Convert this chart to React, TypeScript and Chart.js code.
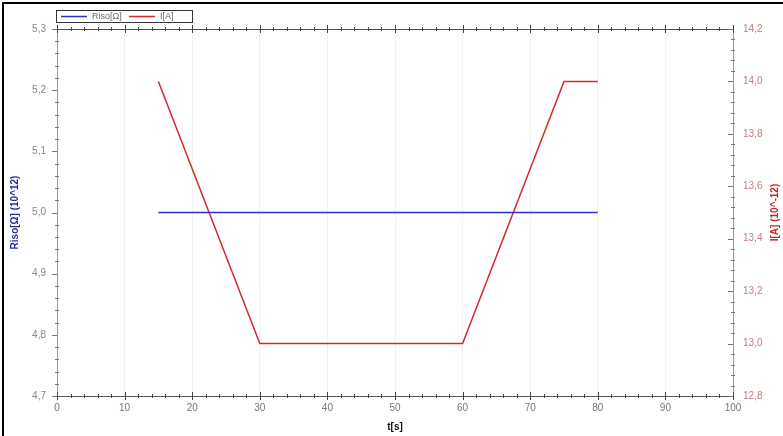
import React, { useEffect, useRef } from "react";
import { Chart, registerables } from "chart.js";

Chart.register(...registerables);

const rLabel = "Riso[Ω]";
const iLabel = "I[A]";
const rTime = [15, 80];
const rValues = [5.0, 5.0];
const iTime = [15, 30, 60, 75, 80];
const iValues = [14.0, 13.0, 13.0, 14.0, 14.0];
const xTitle = "t[s]";
const yLeftTitle = "Riso[Ω] (10^12)";
const yRightTitle = "I[A] (10^-12)";

const BLUE = "#2f2fd0";
const RED = "#d42a2a";
const FONT = "'Liberation Sans', Arial, sans-serif";

const fmt = (v: number) => v.toFixed(1).replace(".", ",");

const decorPlugin = {
  id: "decor",
  beforeDraw(chart: any) {
    const ctx = chart.ctx;
    ctx.save();
    ctx.strokeStyle = "#000";
    ctx.lineWidth = 2;
    ctx.beginPath();
    ctx.moveTo(3, 436);
    ctx.lineTo(3, 3);
    ctx.lineTo(783, 3);
    ctx.stroke();
    ctx.restore();
  },
  afterDraw(chart: any) {
    const ctx = chart.ctx;
    const { left, right, top, bottom } = chart.chartArea;
    const x = chart.scales.x;
    const y = chart.scales.y;
    const y1 = chart.scales.y1;
    ctx.save();
    // axis lines
    ctx.lineWidth = 1;
    ctx.strokeStyle = "#555";
    ctx.beginPath();
    ctx.moveTo(left, top + 0.5);
    ctx.lineTo(right, top + 0.5);
    ctx.moveTo(left, bottom + 0.5);
    ctx.lineTo(right, bottom + 0.5);
    ctx.stroke();
    ctx.strokeStyle = "#999";
    ctx.beginPath();
    ctx.moveTo(left + 0.5, top);
    ctx.lineTo(left + 0.5, bottom);
    ctx.moveTo(right + 0.5, top);
    ctx.lineTo(right + 0.5, bottom);
    ctx.stroke();
    // x ticks
    ctx.strokeStyle = "#444";
    ctx.beginPath();
    for (let i = 0; i <= 50; i++) {
      const v = i * 2;
      const px = Math.round(x.getPixelForValue(v)) + 0.5;
      const major = i % 5 === 0;
      const len = major ? 4 : 2;
      ctx.moveTo(px, bottom - len);
      ctx.lineTo(px, bottom + len);
      ctx.moveTo(px, top - len);
      ctx.lineTo(px, top + len);
    }
    ctx.stroke();
    // left ticks
    ctx.strokeStyle = "#777";
    ctx.beginPath();
    for (let i = 0; i <= 30; i++) {
      const v = 4.7 + i * 0.02;
      const py = Math.round(y.getPixelForValue(v)) + 0.5;
      const major = i % 5 === 0;
      ctx.moveTo(left - (major ? 5 : 2), py);
      ctx.lineTo(left + (major ? 0 : 2), py);
    }
    // right ticks
    for (let i = 0; i <= 35; i++) {
      const v = 12.8 + i * 0.04;
      const py = Math.round(y1.getPixelForValue(v)) + 0.5;
      const major = i % 5 === 0;
      ctx.moveTo(right - (major ? 5 : 2), py);
      ctx.lineTo(right + (major ? 0 : 2), py);
    }
    ctx.stroke();
    // right axis title (reads bottom to top)
    ctx.save();
    ctx.translate(775, (top + bottom) / 2);
    ctx.rotate(-Math.PI / 2);
    ctx.font = "bold 10px " + FONT;
    ctx.fillStyle = "#c02a2a";
    ctx.textAlign = "center";
    ctx.textBaseline = "middle";
    ctx.fillText(yRightTitle, 0, 0);
    ctx.restore();
    // legend
    const lx = 56, ly = 10, lw = 136, lh = 12;
    ctx.fillStyle = "#fff";
    ctx.fillRect(lx, ly, lw, lh);
    ctx.strokeStyle = "#333";
    ctx.strokeRect(lx + 0.5, ly + 0.5, lw, lh);
    ctx.font = "9px " + FONT;
    ctx.textBaseline = "middle";
    const items = chart.data.datasets;
    let cx = lx + 5;
    items.forEach((ds: any) => {
      ctx.strokeStyle = ds.borderColor;
      ctx.lineWidth = 1.5;
      ctx.beginPath();
      ctx.moveTo(cx, ly + lh / 2 + 0.5);
      ctx.lineTo(cx + 26, ly + lh / 2 + 0.5);
      ctx.stroke();
      ctx.fillStyle = "#666";
      ctx.fillText(ds.label, cx + 31, ly + lh / 2 + 1);
      cx += 68;
    });
    ctx.restore();
  },
};

export default function App() {
  const ref = useRef<HTMLCanvasElement>(null);
  useEffect(() => {
    if (!ref.current) return;
    const chart = new Chart(ref.current, {
      type: "line",
      data: {
        datasets: [
          {
            label: rLabel,
            data: rTime.map((t, i) => ({ x: t, y: rValues[i] })),
            borderColor: BLUE,
            backgroundColor: BLUE,
            borderWidth: 1.5,
            pointRadius: 0,
            yAxisID: "y",
          },
          {
            label: iLabel,
            data: iTime.map((t, i) => ({ x: t, y: iValues[i] })),
            borderColor: RED,
            backgroundColor: RED,
            borderWidth: 1.5,
            pointRadius: 0,
            yAxisID: "y1",
          },
        ],
      },
      plugins: [decorPlugin],
      options: {
        responsive: false,
        animation: false,
        layout: { padding: { top: 29, right: 0, left: 0, bottom: 0 } },
        plugins: { legend: { display: false }, tooltip: { enabled: false } },
        scales: {
          x: {
            type: "linear",
            min: 0,
            max: 100,
            ticks: {
              stepSize: 10,
              color: "#777",
              font: { size: 10, family: FONT },
              padding: 6,
              maxRotation: 0,
            },
            grid: { color: "rgba(0,0,0,0.05)", drawTicks: false },
            border: { display: false },
            title: {
              display: true,
              text: xTitle,
              color: "#111",
              font: { size: 10, weight: "bold", family: FONT },
              padding: { top: 0, bottom: 3 },
            },
            afterFit: (s: any) => {
              s.height = 40;
            },
          },
          y: {
            type: "linear",
            position: "left",
            min: 4.7,
            max: 5.3,
            ticks: {
              stepSize: 0.1,
              color: "#888",
              font: { size: 10, family: FONT },
              padding: 11,
              callback: (v: any) => fmt(Number(v)),
            },
            grid: { display: false, drawTicks: false },
            border: { display: false },
            title: {
              display: true,
              text: yLeftTitle,
              color: "#2b2ba8",
              font: { size: 10, weight: "bold", family: FONT },
              padding: { top: 9, bottom: 0 },
            },
            afterFit: (s: any) => {
              s.width = 57;
            },
          },
          y1: {
            type: "linear",
            position: "right",
            min: 12.8,
            max: 14.2,
            ticks: {
              stepSize: 0.2,
              color: "#c08080",
              font: { size: 10, family: FONT },
              padding: 10,
              callback: (v: any) => fmt(Number(v)),
            },
            grid: { display: false, drawTicks: false },
            border: { display: false },
            title: { display: false, text: yRightTitle },
            afterFit: (s: any) => {
              s.width = 50;
            },
          },
        },
      },
    });
    return () => chart.destroy();
  }, []);
  return (
    <div style={{ position: "absolute", left: 0, top: 0, width: 783, height: 436, background: "#fff" }}>
      <canvas ref={ref} width={783} height={436} style={{ display: "block" }} />
    </div>
  );
}
